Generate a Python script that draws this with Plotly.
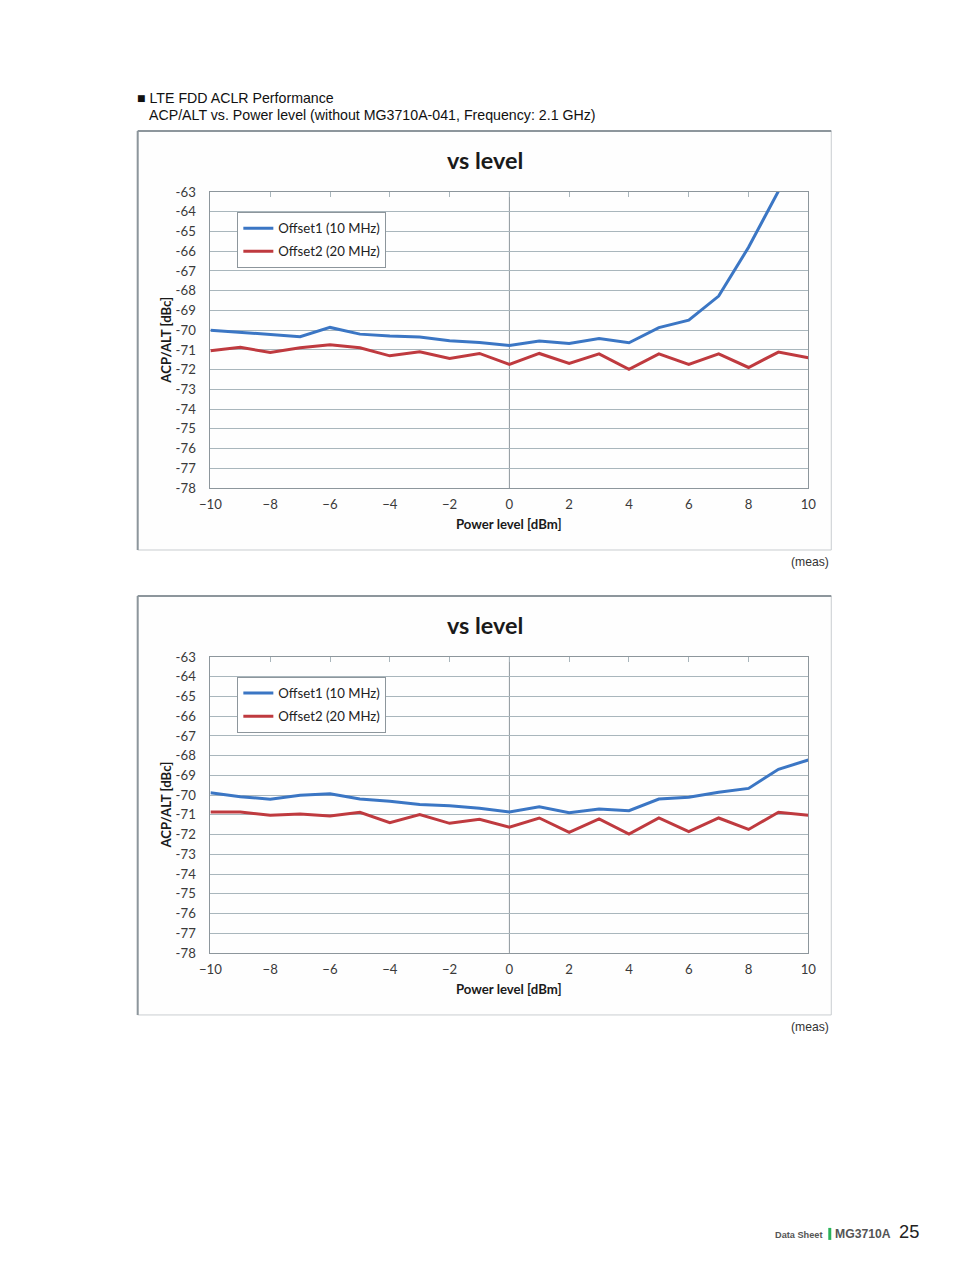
import plotly.graph_objects as go

W, H = 954, 1268
# The page is shown with an 8px body margin and photographed as a whole (970x1284 -> 954x1268),
# so page positions are mapped back through that scale.
MARGIN = 8
SX = W / (W + 2 * MARGIN)
SY = H / (H + 2 * MARGIN)
FS = 1 / SX  # font compensation

power_dbm = [-10, -9, -8, -7, -6, -5, -4, -3, -2, -1, 0, 1, 2, 3, 4, 5, 6, 7, 8, 9, 10]

# Chart 1 (upper)
c1_offset1 = [-70.0, -70.1, -70.2, -70.33, -69.86, -70.2, -70.3, -70.35, -70.53, -70.63, -70.77,
              -70.55, -70.67, -70.42, -70.64, -69.87, -69.49, -68.27, -65.8, -62.95, -59.5]
c1_offset2 = [-71.04, -70.87, -71.13, -70.89, -70.74, -70.89, -71.3, -71.09, -71.43, -71.18, -71.74,
              -71.18, -71.69, -71.2, -71.98, -71.2, -71.74, -71.2, -71.89, -71.11, -71.4]

# Chart 2 (lower)
c2_offset1 = [-69.88, -70.08, -70.21, -70.01, -69.93, -70.2, -70.31, -70.48, -70.54, -70.67, -70.86,
              -70.59, -70.89, -70.7, -70.79, -70.2, -70.11, -69.86, -69.66, -68.69, -68.22]
c2_offset2 = [-70.86, -70.86, -71.02, -70.96, -71.06, -70.87, -71.4, -70.99, -71.43, -71.23, -71.63,
              -71.16, -71.89, -71.21, -71.97, -71.16, -71.85, -71.16, -71.74, -70.87, -71.02]

series_names = ["Offset1 (10 MHz)", "Offset2 (20 MHz)"]
x_ticks = [-10, -8, -6, -4, -2, 0, 2, 4, 6, 8, 10]
x_ticktext = ["\u221210", "\u22128", "\u22126", "\u22124", "\u22122", "0", "2", "4", "6", "8", "10"]
y_ticks = list(range(-78, -62))
y_ticktext = ["-78", "-77", "-76", "-75", "-74", "-73", "-72", "-71", "-70", "-69", "-68",
              "-67", "-66", "-65", "-64", "-63"]

BLUE = "#3b76c4"
RED = "#bf3a3f"
GRID = "#a9b6bc"
FRAME = "#8d969c"
FONT = "Lato"


def px(x):
    return (x / SX - MARGIN) / W


def py(y):
    return 1 - (y / SY - MARGIN) / H


def fs(s):
    return round(s * FS, 1)


fig = go.Figure()

charts = [
    dict(o1=c1_offset1, o2=c1_offset2, top=192, bot=488, box=(135, 131, 831, 550), suffix="", leg="legend"),
    dict(o1=c2_offset1, o2=c2_offset2, top=657, bot=953, box=(135, 596, 831, 1015), suffix="2", leg="legend2"),
]

shapes = []
annotations = []
layout_axes = {}

for i, ch in enumerate(charts):
    xa = "x" + ch["suffix"]
    ya = "y" + ch["suffix"]
    xa_top = "x" + str(3 + i)
    fig.add_trace(go.Scatter(x=power_dbm, y=ch["o1"], mode="lines", name=series_names[0],
                             legendgroup="g1_%d" % i,
                             line=dict(color=BLUE, width=3), xaxis=xa, yaxis=ya, legend=ch["leg"]))
    fig.add_trace(go.Scatter(x=power_dbm, y=ch["o2"], mode="lines", name=series_names[1],
                             legendgroup="g2_%d" % i,
                             line=dict(color=RED, width=3), xaxis=xa, yaxis=ya, legend=ch["leg"]))
    # invisible trace to activate the top-tick axis
    fig.add_trace(go.Scatter(x=[power_dbm[0]], y=[ch["o1"][0]], mode="none", showlegend=False,
                             hoverinfo="skip", xaxis=xa_top, yaxis=ya))

    xdom = [px(208), px(808)]
    ydom = [py(ch["bot"]), py(ch["top"])]
    xkey = "xaxis" + ch["suffix"]
    ykey = "yaxis" + ch["suffix"]
    layout_axes[xkey] = dict(domain=xdom, anchor=ya, range=[-10, 10], tickvals=x_ticks, ticktext=x_ticktext,
                             showgrid=False, zeroline=False, showline=True, linecolor=FRAME, linewidth=1,
                             mirror=True, ticks="", tickfont=dict(family=FONT, size=fs(13), color="#3a3a3a"),
                             ticklabelstandoff=4, fixedrange=True)
    layout_axes[ykey] = dict(domain=ydom, anchor=xa, range=[-78, -63], tickvals=y_ticks, ticktext=y_ticktext,
                             showgrid=True,
                             gridcolor=GRID, gridwidth=1, zeroline=False, showline=True, linecolor=FRAME,
                             linewidth=1, mirror=True, ticks="",
                             tickfont=dict(family=FONT, size=fs(13), color="#3a3a3a"),
                             ticklabelstandoff=11, fixedrange=True)
    layout_axes["xaxis" + str(3 + i)] = dict(domain=xdom, anchor=ya, overlaying=xa, side="top",
                                             range=[-10, 10], tickvals=x_ticks, ticks="inside", ticklen=5,
                                             tickcolor=GRID, showticklabels=False, showgrid=False,
                                             zeroline=False, showline=False, fixedrange=True)
    # outer chart box
    x0, y0, x1, y1 = ch["box"]
    shapes.append(dict(type="rect", xref="paper", yref="paper", x0=px(x0), x1=px(x1), y0=py(y1), y1=py(y0),
                       line=dict(color="#c9cdd0", width=1), fillcolor="#fefefe", layer="below"))
    shapes.append(dict(type="line", xref="paper", yref="paper", x0=px(x0), x1=px(x1), y0=py(y0), y1=py(y0),
                       line=dict(color=FRAME, width=2), layer="below"))
    shapes.append(dict(type="line", xref="paper", yref="paper", x0=px(x0), x1=px(x0), y0=py(y1), y1=py(y0),
                       line=dict(color=FRAME, width=2), layer="below"))
    # vertical axis line at x = 0
    shapes.append(dict(type="line", xref=xa, yref=ya + " domain", x0=0, x1=0, y0=0, y1=1,
                       line=dict(color=FRAME, width=1), layer="below"))
    # titles
    annotations.append(dict(text="<b>vs level</b>", xref="paper", yref="paper", x=px(484), y=py(y0 + 29),
                            showarrow=False, font=dict(family=FONT, size=fs(23), color="#1a1a1a"),
                            xanchor="center", yanchor="middle"))
    annotations.append(dict(text="<b>Power level [dBm]</b>", xref="paper", yref="paper", x=px(508),
                            y=py(ch["bot"] + 36), showarrow=False,
                            font=dict(family=FONT, size=fs(13), color="#1a1a1a"),
                            xanchor="center", yanchor="middle"))
    annotations.append(dict(text="<b>ACP/ALT [dBc]</b>", xref="paper", yref="paper", x=px(163),
                            y=py((ch["top"] + ch["bot"]) / 2), showarrow=False, textangle=-90,
                            font=dict(family=FONT, size=fs(13), color="#1a1a1a"),
                            xanchor="center", yanchor="middle"))
    annotations.append(dict(text="(meas)", xref="paper", yref="paper", x=px(831), y=py(y1 + 12),
                            showarrow=False, font=dict(family="Liberation Sans", size=fs(12), color="#333"),
                            xanchor="right", yanchor="middle"))

legend_common = dict(xanchor="left", yanchor="top", bgcolor="white", bordercolor="#8d969c", borderwidth=1,
                     font=dict(family=FONT, size=fs(13), color="#222"), itemwidth=30, tracegroupgap=3,
                     entrywidth=133, entrywidthmode="pixels")

annotations.append(dict(text="\u25a0 LTE FDD ACLR Performance", xref="paper", yref="paper", x=px(132), y=py(98),
                        showarrow=False, font=dict(family="Liberation Sans", size=fs(14), color="#111"),
                        xanchor="left", yanchor="middle"))
annotations.append(dict(text="ACP/ALT vs. Power level (without MG3710A-041, Frequency: 2.1 GHz)", xref="paper",
                        yref="paper", x=px(144), y=py(115), showarrow=False,
                        font=dict(family="Liberation Sans", size=fs(14), color="#111"),
                        xanchor="left", yanchor="middle"))
# footer
annotations.append(dict(text="<b>Data Sheet</b>", xref="paper", yref="paper", x=px(825), y=py(1235),
                        showarrow=False, font=dict(family="Liberation Sans", size=fs(9), color="#555"),
                        xanchor="right", yanchor="middle"))
annotations.append(dict(text="<b>MG3710A</b>", xref="paper", yref="paper", x=px(833), y=py(1234),
                        showarrow=False, font=dict(family="Liberation Sans", size=fs(12), color="#555"),
                        xanchor="left", yanchor="middle"))
annotations.append(dict(text="25", xref="paper", yref="paper", x=px(897), y=py(1232),
                        showarrow=False, font=dict(family="Liberation Sans", size=fs(18), color="#222"),
                        xanchor="left", yanchor="middle"))
shapes.append(dict(type="rect", xref="paper", yref="paper", x0=px(828), x1=px(831), y0=py(1240), y1=py(1228),
                   line=dict(width=0), fillcolor="#2bb35a"))

fig.update_layout(
    width=W, height=H,
    margin=dict(l=0, r=0, t=0, b=0),
    paper_bgcolor="white",
    plot_bgcolor="white",
    showlegend=True,
    legend=dict(x=px(235), y=py(212), **legend_common),
    legend2=dict(x=px(235), y=py(677), **legend_common),
    shapes=shapes,
    annotations=annotations,
    **layout_axes,
)

fig.write_html("out.html")
